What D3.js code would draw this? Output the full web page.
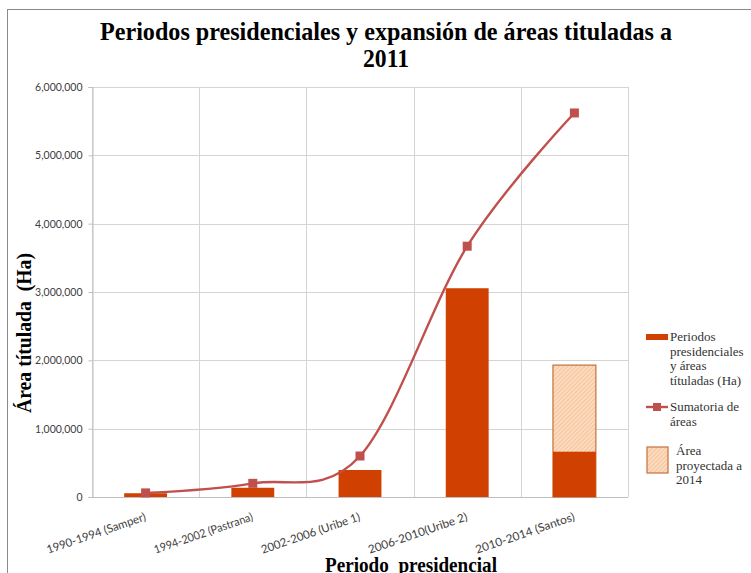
<!DOCTYPE html>
<html>
<head>
<meta charset="utf-8">
<script src="https://cdn.jsdelivr.net/npm/d3@7"></script>
<style>
  html, body { margin: 0; padding: 0; background: #fff; }
  svg { display: block; }
  text { white-space: pre; }
</style>
</head>
<body>
<svg id="chart" width="751" height="573"></svg>
<script>
// Presidential periods
const categories = [
  "1990-1994 (Samper)",
  "1994-2002 (Pastrana)",
  "2002-2006 (Uribe 1)",
  "2006-2010(Uribe 2)",
  "2010-2014 (Santos)"
];
// Titled area per period (Ha)
const areaPeriodo = [55000, 135000, 395000, 3055000, 663000];
// Projected total to 2014 (only for the last period)
const areaProyectada = [null, null, null, null, 1930000];
// Cumulative titled area (Ha)
const sumatoria = [60000, 200000, 600000, 3670000, 5620000];
// Y-axis ticks
const yTicks = [0, 1000000, 2000000, 3000000, 4000000, 5000000, 6000000];

const legendItems = [
  { type: "bar", lines: ["Periodos", "presidenciales", "y áreas", "títuladas (Ha)"] },
  { type: "line", lines: ["Sumatoria de", "áreas"] },
  { type: "proj", lines: ["Área", "proyectada a", "2014"] }
];

const barColor = "#d04000";
const lineColor = "#c0504d";
const gridColor = "#d4d4d4";

const svg = d3.select("#chart");

// Pattern for the projected area
const defs = svg.append("defs");
const pat = defs.append("pattern")
  .attr("id", "proj")
  .attr("patternUnits", "userSpaceOnUse")
  .attr("width", 3).attr("height", 3)
  .attr("patternTransform", "rotate(45)");
pat.append("rect").attr("width", 3).attr("height", 3).attr("fill", "#fcdcc0");
pat.append("rect").attr("width", 1).attr("height", 3).attr("fill", "#f6c29a");

// Chart frame
svg.append("rect")
  .attr("x", 7.5).attr("y", 9.5)
  .attr("width", 760).attr("height", 600)
  .attr("fill", "none").attr("stroke", "#8a8a8a").attr("stroke-width", 1);

const plot = { left: 92, right: 628, top: 87, bottom: 497 };

const x = d3.scaleBand().domain(categories).range([plot.left, plot.right]).padding(0);
const y = d3.scaleLinear().domain([0, 6000000]).range([plot.bottom, plot.top]);

// Horizontal gridlines
svg.append("g").selectAll("line").data(yTicks).join("line")
  .attr("x1", plot.left).attr("x2", plot.right)
  .attr("y1", d => Math.round(y(d)) + 0.5).attr("y2", d => Math.round(y(d)) + 0.5)
  .attr("stroke", gridColor).attr("stroke-width", 1);

// Vertical gridlines at category boundaries
const bounds = categories.map(c => x(c)).concat([plot.right]);
svg.append("g").selectAll("line").data(bounds).join("line")
  .attr("x1", d => Math.round(d) + 0.5).attr("x2", d => Math.round(d) + 0.5)
  .attr("y1", plot.top).attr("y2", plot.bottom)
  .attr("stroke", gridColor).attr("stroke-width", 1);

// Y axis
const yAxis = d3.axisLeft(y).tickValues(yTicks).tickSize(4).tickPadding(6)
  .tickFormat(d3.format(","));
const gy = svg.append("g").attr("transform", `translate(${plot.left + 0.5},0)`).call(yAxis);
gy.select(".domain").attr("stroke", "#bfbfbf");
gy.selectAll(".tick line").attr("stroke", "#bfbfbf");
gy.selectAll(".tick text")
  .attr("font-family", "Lato, 'Open Sans', sans-serif")
  .attr("font-size", 10.5).attr("fill", "#404040");

// X axis baseline
svg.append("line")
  .attr("x1", plot.left).attr("x2", plot.right)
  .attr("y1", plot.bottom + 0.5).attr("y2", plot.bottom + 0.5)
  .attr("stroke", "#bfbfbf");

// X labels, rotated
svg.append("g").selectAll("text").data(categories).join("text")
  .attr("transform", d => `translate(${x(d) + x.bandwidth() / 2 + 1},${plot.bottom + 23}) rotate(-19)`)
  .attr("text-anchor", "end")
  .attr("font-family", "Lato, 'Open Sans', sans-serif")
  .attr("font-size", 11.5).attr("fill", "#404040")
  .attr("textLength", 104).attr("lengthAdjust", "spacingAndGlyphs")
  .text(d => d);

const bw = x.bandwidth() * 0.4;
const bx = d => x(d) + (x.bandwidth() - bw) / 2;

// Projected total bars (behind the actual bars)
svg.append("g").selectAll("rect")
  .data(categories.map((c, i) => ({ c, v: areaProyectada[i] })).filter(d => d.v != null))
  .join("rect")
  .attr("x", d => bx(d.c)).attr("width", bw)
  .attr("y", d => y(d.v)).attr("height", d => y(0) - y(d.v))
  .attr("fill", "url(#proj)").attr("stroke", "#c87a45").attr("stroke-width", 1.3);

// Titled area bars
svg.append("g").selectAll("rect")
  .data(categories.map((c, i) => ({ c, v: areaPeriodo[i] })))
  .join("rect")
  .attr("x", d => bx(d.c)).attr("width", bw)
  .attr("y", d => y(d.v)).attr("height", d => y(0) - y(d.v))
  .attr("fill", barColor);

// Cumulative line (smoothed)
const pts = categories.map((c, i) => [x(c) + x.bandwidth() / 2, y(sumatoria[i])]);
svg.append("path")
  .attr("d", d3.line().curve(d3.curveCardinal.tension(0))(pts))
  .attr("fill", "none").attr("stroke", lineColor).attr("stroke-width", 2.4);

svg.append("g").selectAll("rect").data(pts).join("rect")
  .attr("x", d => d[0] - 4.5).attr("y", d => d[1] - 4.5)
  .attr("width", 9).attr("height", 9)
  .attr("fill", lineColor);

// Title
const title = svg.append("text")
  .attr("text-anchor", "middle")
  .attr("font-family", "'Liberation Serif', 'DejaVu Serif', serif")
  .attr("font-weight", "bold").attr("font-size", 25).attr("fill", "#000");
title.append("tspan").attr("x", 386).attr("y", 40)
  .attr("textLength", 572).attr("lengthAdjust", "spacingAndGlyphs")
  .text("Periodos presidenciales y expansión de áreas tituladas a");
title.append("tspan").attr("x", 386).attr("y", 67)
  .attr("textLength", 46).attr("lengthAdjust", "spacingAndGlyphs")
  .text("2011");

// Axis titles
svg.append("text")
  .attr("transform", "translate(31,333) rotate(-90)")
  .attr("text-anchor", "middle")
  .attr("font-family", "'Liberation Serif', 'DejaVu Serif', serif")
  .attr("font-weight", "bold").attr("font-size", 20)
  .attr("textLength", 160).attr("lengthAdjust", "spacingAndGlyphs")
  .text("Área títulada  (Ha)");

svg.append("text")
  .attr("x", 411).attr("y", 572)
  .attr("text-anchor", "middle")
  .attr("font-family", "'Liberation Serif', 'DejaVu Serif', serif")
  .attr("font-weight", "bold").attr("font-size", 21)
  .attr("textLength", 172).attr("lengthAdjust", "spacingAndGlyphs")
  .text("Periodo  presidencial");

// Legend
const legendY = [337, 407, 451];
const lg = svg.append("g");
legendItems.forEach((it, i) => {
  const g = lg.append("g").attr("transform", `translate(0,${legendY[i]})`);
  if (it.type === "bar") {
    g.append("rect").attr("x", 646).attr("y", -3).attr("width", 22).attr("height", 6).attr("fill", barColor);
  } else if (it.type === "line") {
    g.append("line").attr("x1", 646).attr("x2", 668).attr("y1", 0).attr("y2", 0)
      .attr("stroke", lineColor).attr("stroke-width", 2.4);
    g.append("rect").attr("x", 653).attr("y", -4).attr("width", 8).attr("height", 8).attr("fill", lineColor);
  } else {
    g.append("rect").attr("x", 647).attr("y", -4).attr("width", 21).attr("height", 26)
      .attr("fill", "url(#proj)").attr("stroke", "#c87a45").attr("stroke-width", 1.3);
  }
  const tx = it.type === "proj" ? 676 : 670;
  const t = g.append("text")
    .attr("font-family", "'Liberation Serif', 'DejaVu Serif', serif")
    .attr("font-size", 13).attr("fill", "#333");
  it.lines.forEach((s, j) => {
    t.append("tspan").attr("x", tx).attr("y", 4 + j * 14.5).text(s);
  });
});
</script>
</body>
</html>
